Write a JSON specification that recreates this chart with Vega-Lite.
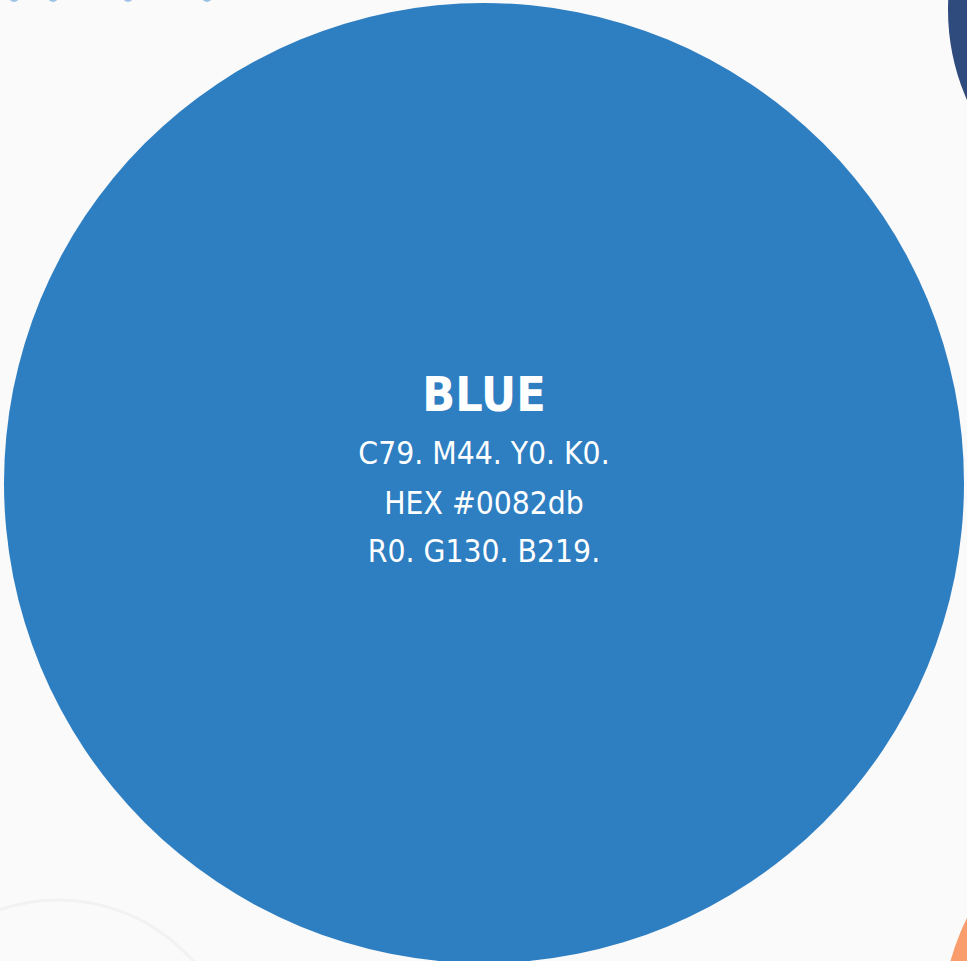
{
  "$schema": "https://vega.github.io/schema/vega-lite/v6.json",
  "width": 967,
  "height": 961,
  "autosize": {"type": "none"},
  "padding": 0,
  "background": "#fafafa",
  "config": {"view": {"stroke": null}},
  "datasets": {
    "circles": [
      {"name": "navy", "cx": 1171, "cy": 10, "r": 223},
      {"name": "orange", "cx": 1191, "cy": 1029, "r": 250},
      {"name": "dot1", "cx": 14, "cy": -3, "r": 5},
      {"name": "dot2", "cx": 53, "cy": -3, "r": 5},
      {"name": "dot3", "cx": 128, "cy": -3, "r": 5},
      {"name": "dot4", "cx": 207, "cy": -3, "r": 5},
      {"name": "blue", "cx": 484, "cy": 483, "r": 480}
    ],
    "rings": [
      {"name": "ring", "cx": 58, "cy": 1080, "r": 180}
    ],
    "labels": [
      {"text": "BLUE", "x": 484, "y": 397, "kind": "title"},
      {"text": "C79. M44. Y0. K0.", "x": 484, "y": 455, "kind": "line"},
      {"text": "HEX #0082db", "x": 484, "y": 505, "kind": "line"},
      {"text": "R0. G130. B219.", "x": 484, "y": 553, "kind": "line"}
    ]
  },
  "layer": [
    {
      "data": {"name": "rings"},
      "mark": {"type": "point", "shape": "circle", "filled": false, "stroke": "#efefef", "strokeWidth": 3},
      "encoding": {
        "x": {"field": "cx", "type": "quantitative", "scale": {"domain": [0, 967]}, "axis": null},
        "y": {"field": "cy", "type": "quantitative", "scale": {"domain": [961, 0]}, "axis": null},
        "size": {"field": "r", "type": "quantitative", "scale": {"type": "pow", "exponent": 2, "domain": [0, 1000], "range": [0, 4000000]}, "legend": null}
      }
    },
    {
      "data": {"name": "circles"},
      "mark": {"type": "point", "shape": "circle", "filled": true, "opacity": 1},
      "encoding": {
        "x": {"field": "cx", "type": "quantitative", "scale": {"domain": [0, 967]}, "axis": null},
        "y": {"field": "cy", "type": "quantitative", "scale": {"domain": [961, 0]}, "axis": null},
        "size": {"field": "r", "type": "quantitative", "scale": {"type": "pow", "exponent": 2, "domain": [0, 1000], "range": [0, 4000000]}, "legend": null},
        "color": {"field": "name", "type": "nominal", "legend": null,
          "scale": {"domain": ["navy", "orange", "dot1", "dot2", "dot3", "dot4", "blue"],
                    "range": ["#2f4a7c", "#f99d6c", "#9cc3e6", "#9cc3e6", "#9cc3e6", "#9cc3e6", "#2e7ec2"]}}
      }
    },
    {
      "data": {"name": "labels"},
      "transform": [{"filter": "datum.kind === 'title'"}],
      "mark": {"type": "text", "font": "Noto Sans ExtraCondensed, Noto Sans Condensed, DejaVu Sans Condensed, sans-serif", "fontWeight": "bold", "fontSize": 48, "baseline": "middle", "align": "center", "color": "#ffffff"},
      "encoding": {
        "x": {"field": "x", "type": "quantitative", "scale": {"domain": [0, 967]}, "axis": null},
        "y": {"field": "y", "type": "quantitative", "scale": {"domain": [961, 0]}, "axis": null},
        "text": {"field": "text"}
      }
    },
    {
      "data": {"name": "labels"},
      "transform": [{"filter": "datum.kind === 'line'"}],
      "mark": {"type": "text", "font": "DejaVu Sans Condensed, sans-serif", "fontWeight": 500, "fontSize": 31.5, "baseline": "middle", "align": "center", "color": "#ffffff"},
      "encoding": {
        "x": {"field": "x", "type": "quantitative", "scale": {"domain": [0, 967]}, "axis": null},
        "y": {"field": "y", "type": "quantitative", "scale": {"domain": [961, 0]}, "axis": null},
        "text": {"field": "text"}
      }
    }
  ]
}
